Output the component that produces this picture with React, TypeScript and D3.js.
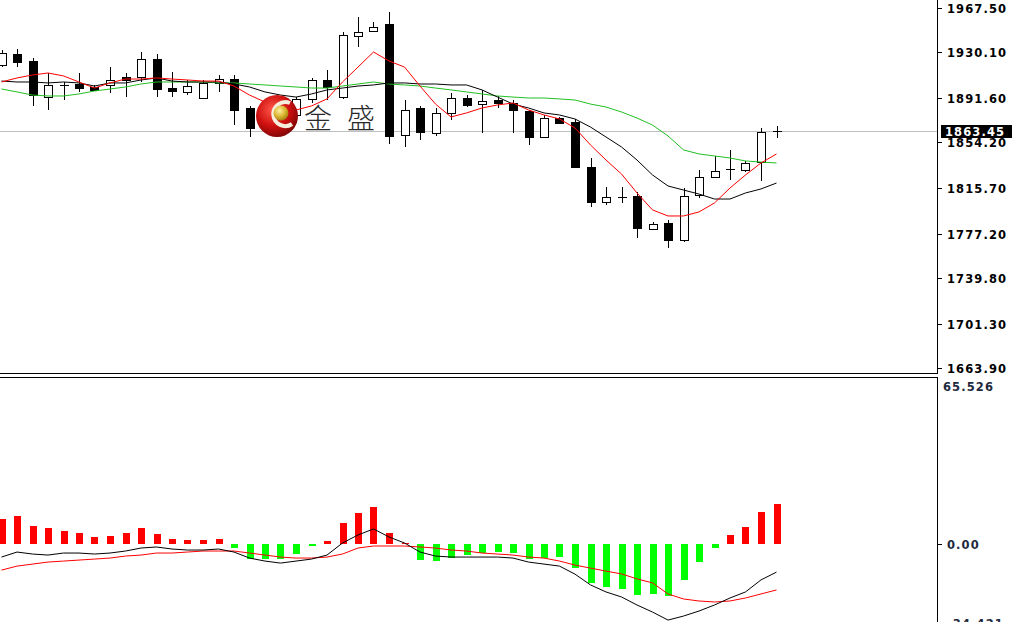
import React from "react";
import * as d3 from "d3";

const W = 1012;
const H = 622;

// ---- price data (per bar) ----
const opens = [1919.4, 1928.7, 1922.8, 1892.4, 1902.6, 1903.4, 1900.9, 1902.6, 1909.3, 1909.3, 1924.5, 1900.0, 1896.7, 1891.6, 1904.3, 1907.6, 1883.2, 1871.4, 1874.7, 1877.3, 1890.8, 1906.8, 1892.4, 1943.9, 1948.1, 1954.0, 1860.4, 1883.2, 1862.1, 1879.0, 1891.6, 1886.5, 1889.9, 1887.4, 1880.6, 1858.7, 1874.7, 1871.4, 1833.4, 1803.9, 1808.1, 1809.0, 1781.2, 1786.2, 1771.9, 1809.8, 1825.0, 1831.7, 1830.9, 1837.6, 1863.8];
const highs = [1932.1, 1932.9, 1925.3, 1912.7, 1905.1, 1912.7, 1902.6, 1917.7, 1912.7, 1930.4, 1928.7, 1913.5, 1906.8, 1906.8, 1911.0, 1911.0, 1884.9, 1877.3, 1881.5, 1892.4, 1908.5, 1915.2, 1947.3, 1959.9, 1955.7, 1964.1, 1889.9, 1884.9, 1883.2, 1895.8, 1894.1, 1898.4, 1893.3, 1889.9, 1881.5, 1877.3, 1875.6, 1873.9, 1841.0, 1816.6, 1816.6, 1812.3, 1787.0, 1788.7, 1815.7, 1830.9, 1842.7, 1847.8, 1838.5, 1866.3, 1868.0];
const lows = [1917.7, 1917.7, 1884.9, 1881.5, 1889.9, 1896.7, 1897.5, 1895.8, 1892.4, 1905.1, 1892.4, 1892.4, 1894.1, 1891.6, 1896.7, 1868.8, 1858.7, 1864.6, 1868.8, 1870.5, 1887.4, 1889.9, 1890.8, 1934.6, 1948.1, 1852.8, 1850.3, 1856.2, 1859.6, 1873.0, 1884.0, 1862.1, 1883.2, 1862.1, 1852.0, 1857.9, 1869.7, 1832.6, 1799.7, 1801.4, 1803.1, 1773.6, 1780.3, 1765.1, 1770.2, 1807.3, 1825.0, 1822.5, 1829.2, 1821.6, 1857.9];
const closes = [1929.6, 1922.0, 1894.1, 1902.6, 1901.9, 1900.0, 1898.4, 1906.8, 1906.8, 1924.5, 1899.2, 1897.5, 1901.7, 1904.3, 1907.6, 1881.5, 1866.3, 1874.7, 1879.8, 1890.8, 1906.8, 1900.9, 1944.7, 1947.3, 1951.5, 1859.6, 1881.5, 1863.0, 1879.0, 1891.6, 1885.7, 1889.1, 1887.4, 1881.5, 1858.7, 1874.7, 1870.5, 1833.4, 1803.9, 1808.1, 1807.7, 1782.0, 1785.4, 1771.9, 1809.0, 1825.0, 1830.0, 1831.2, 1836.8, 1863.0, 1863.45];

// ---- moving averages ----
const maFast = [1905.1, 1908.5, 1911.0, 1912.7, 1910.2, 1905.1, 1900.0, 1904.3, 1907.6, 1907.6, 1908.5, 1907.6, 1906.8, 1905.9, 1905.9, 1901.7, 1894.1, 1888.2, 1884.0, 1881.5, 1884.9, 1890.8, 1905.1, 1917.7, 1930.4, 1922.8, 1917.7, 1901.7, 1886.5, 1875.6, 1879.0, 1883.2, 1885.7, 1887.4, 1881.5, 1877.3, 1873.9, 1866.3, 1852.0, 1839.3, 1827.5, 1811.5, 1797.2, 1792.1, 1792.1, 1795.5, 1803.1, 1815.7, 1826.7, 1836.8, 1844.4];
const maMid = [1905.9, 1905.1, 1905.1, 1904.3, 1905.1, 1904.3, 1901.7, 1904.3, 1904.3, 1906.8, 1908.5, 1905.9, 1905.1, 1905.1, 1905.1, 1903.4, 1900.9, 1896.7, 1894.1, 1892.4, 1895.0, 1898.4, 1900.0, 1901.7, 1902.6, 1904.3, 1904.3, 1903.4, 1903.4, 1902.6, 1902.6, 1898.4, 1892.4, 1886.5, 1883.2, 1879.0, 1877.3, 1873.9, 1867.1, 1858.7, 1850.3, 1839.3, 1826.7, 1817.4, 1814.0, 1810.6, 1806.4, 1806.4, 1811.5, 1814.9, 1819.9];
const maSlow = [1899.2, 1896.7, 1894.1, 1893.3, 1893.3, 1895.0, 1897.5, 1899.2, 1900.9, 1903.4, 1905.1, 1905.1, 1905.1, 1905.1, 1904.3, 1904.3, 1903.4, 1902.6, 1901.7, 1900.9, 1900.0, 1900.0, 1901.7, 1903.4, 1905.1, 1903.4, 1902.6, 1901.7, 1900.0, 1898.4, 1896.7, 1895.0, 1893.3, 1892.4, 1891.6, 1891.6, 1890.8, 1889.9, 1886.5, 1884.0, 1879.8, 1874.7, 1868.8, 1859.6, 1847.8, 1844.4, 1842.7, 1841.0, 1838.5, 1837.6, 1836.8];

// ---- MACD panel ----
const macdHist = [9.8, 11.0, 7.0, 6.2, 5.0, 4.2, 2.6, 3.0, 4.2, 6.2, 3.8, 1.8, 1.4, 1.4, 1.8, -1.8, -6.2, -6.2, -6.2, -4.2, -1.0, 1.0, 8.2, 12.1, 14.5, 4.2, 0.2, -6.6, -7.0, -5.8, -4.6, -3.8, -3.4, -3.8, -6.2, -5.8, -5.4, -9.8, -15.7, -17.3, -18.1, -20.5, -20.1, -20.9, -14.5, -7.4, -1.8, 3.4, 6.6, 12.5, 15.7];
const macdLine = [-5.4, -3.4, -4.2, -4.6, -3.8, -3.8, -4.2, -3.8, -3.0, -1.8, -1.4, -2.2, -2.6, -2.6, -2.2, -3.4, -5.8, -7.0, -7.8, -7.0, -6.2, -4.6, 0.2, 3.4, 5.8, 2.6, 0.2, -3.4, -5.0, -5.4, -5.4, -5.4, -5.4, -5.8, -7.4, -8.2, -9.0, -12.2, -16.5, -19.3, -21.3, -24.5, -27.3, -30.5, -28.9, -26.9, -24.5, -21.7, -19.3, -14.5, -11.4];
const signalLine = [-10.6, -9.0, -8.2, -7.4, -7.0, -6.6, -6.2, -5.8, -5.0, -4.6, -3.8, -3.8, -3.4, -3.0, -3.0, -3.0, -3.8, -4.6, -5.4, -5.8, -5.8, -5.4, -4.2, -1.8, -1.0, -1.0, -1.0, -1.4, -1.8, -2.6, -3.0, -3.8, -4.2, -4.6, -5.4, -5.8, -7.0, -8.6, -9.8, -11.0, -12.1, -14.1, -15.7, -20.1, -22.1, -22.9, -23.3, -22.9, -21.7, -20.1, -18.5];

const priceTicks = [1967.5, 1930.1, 1891.6, 1854.2, 1815.7, 1777.2, 1739.8, 1701.3, 1663.9];
const currentPrice = 1863.45;
const macdMax = 65.526;
const macdMin = -34.421;
const logoText = ["金", "盛"];

const AXIS_X = 937.5;
const LABEL_FONT = "'DejaVu Sans', Verdana, sans-serif";

export default function App() {
  const n = closes.length;
  const x = d3.scaleLinear().domain([0, n - 1]).range([1.5, 776.5]);
  const y = d3.scaleLinear().domain([1663.9, 1967.5]).range([368, 8]);
  const ym = d3.scaleLinear().domain([0, macdMax]).range([543.5, 379]);

  const px = (i: number) => Math.round(x(i)) + 0.5;

  const lineP = (arr: number[]) =>
    d3.line<number>().x((_, i) => x(i)).y((d) => y(d))(arr) || "";
  const lineM = (arr: number[]) =>
    d3.line<number>().x((_, i) => x(i)).y((d) => ym(d))(arr) || "";

  const zeroY = ym(0);

  return (
    <svg width={W} height={H} style={{ position: "absolute", left: 0, top: 0, background: "#fff" }}>
      <defs>
        <radialGradient id="ball" cx="40%" cy="35%" r="70%">
          <stop offset="0%" stopColor="#ff5a4a" />
          <stop offset="55%" stopColor="#d01010" />
          <stop offset="100%" stopColor="#7a0606" />
        </radialGradient>
        <radialGradient id="gold" cx="40%" cy="35%" r="70%">
          <stop offset="0%" stopColor="#fff2a0" />
          <stop offset="60%" stopColor="#d6b02a" />
          <stop offset="100%" stopColor="#9a7a10" />
        </radialGradient>
        <clipPath id="mainClip">
          <rect x={0} y={0} width={AXIS_X} height={373} />
        </clipPath>
        <clipPath id="subClip">
          <rect x={0} y={378} width={AXIS_X} height={H - 378} />
        </clipPath>
      </defs>
      <rect x={0} y={0} width={W} height={H} fill="#fff" />

      {/* ---------- main panel ---------- */}
      <g clipPath="url(#mainClip)">
        <line x1={0} x2={AXIS_X} y1={Math.round(y(currentPrice)) + 0.5} y2={Math.round(y(currentPrice)) + 0.5} stroke="#c0c0c0" strokeWidth={1} />

        {closes.map((c, i) => {
          const o = opens[i];
          const cx = px(i);
          const top = Math.round(y(Math.max(o, c)));
          const bot = Math.round(y(Math.min(o, c)));
          const bull = c >= o;
          const hh = bot - top;
          return (
            <g key={i} shapeRendering="crispEdges">
              <line x1={cx} x2={cx} y1={Math.round(y(highs[i]))} y2={Math.round(y(lows[i]))} stroke="#000" strokeWidth={1} />
              {hh < 1.5 ? (
                <line x1={cx - 4.5} x2={cx + 4.5} y1={top + 0.5} y2={top + 0.5} stroke="#000" strokeWidth={1.5} />
              ) : (
                <rect x={cx - 4} y={top + 0.5} width={8} height={hh} fill={bull ? "#fff" : "#000"} stroke="#000" strokeWidth={1} />
              )}
            </g>
          );
        })}

        <path d={lineP(maSlow)} fill="none" stroke="#22c022" strokeWidth={1} />
        <path d={lineP(maMid)} fill="none" stroke="#000" strokeWidth={1} />
        <path d={lineP(maFast)} fill="none" stroke="#ff0000" strokeWidth={1} />

        {/* watermark logo */}
        <g>
          <circle cx={277} cy={116} r={21} fill="url(#ball)" />
          <path d="M 290 103 A 12 12 0 1 0 292 124" fill="none" stroke="#f6eedc" strokeWidth={4} />
          <circle cx={281} cy={113} r={7.5} fill="url(#gold)" />
          <text x={318} y={129} fontSize={28} fontFamily="'Noto Sans CJK SC', sans-serif" fontWeight={300} fill="#2a2a2a" textAnchor="middle">{logoText[0]}</text>
          <text x={361} y={129} fontSize={28} fontFamily="'Noto Sans CJK SC', sans-serif" fontWeight={300} fill="#2a2a2a" textAnchor="middle">{logoText[1]}</text>
        </g>
      </g>

      {/* ---------- MACD panel ---------- */}
      <g clipPath="url(#subClip)">
        {macdHist.map((v, i) => {
          const cx = Math.round(x(i));
          const y0 = Math.round(zeroY);
          const y1 = Math.round(ym(v));
          const t = Math.min(y0, y1);
          const h = Math.max(Math.abs(y1 - y0), v === 0 ? 0 : 1);
          return (
            <rect key={i} x={cx - 3} y={t} width={7} height={h} fill={v >= 0 ? "#ff0000" : "#00ff00"} shapeRendering="crispEdges" />
          );
        })}
        <path d={lineM(signalLine)} fill="none" stroke="#ff0000" strokeWidth={1} />
        <path d={lineM(macdLine)} fill="none" stroke="#000" strokeWidth={1} />
      </g>

      {/* ---------- frames ---------- */}
      <g shapeRendering="crispEdges" stroke="#000" strokeWidth={1}>
        <line x1={AXIS_X} x2={AXIS_X} y1={0} y2={374} />
        <line x1={0} x2={AXIS_X} y1={373.5} y2={373.5} />
        <line x1={0} x2={AXIS_X} y1={377.5} y2={377.5} />
        <line x1={AXIS_X} x2={AXIS_X} y1={377} y2={H} />
      </g>

      {/* price axis */}
      {priceTicks.map((p) => {
        const ty = Math.round(y(p)) + 0.5;
        return (
          <g key={p}>
            <line x1={AXIS_X} x2={AXIS_X + 4} y1={ty} y2={ty} stroke="#000" shapeRendering="crispEdges" />
            <text x={947} y={ty + 4.5} fontSize={11.5} fontWeight="bold" letterSpacing={1.1} fontFamily={LABEL_FONT} fill="#000">
              {p.toFixed(2)}
            </text>
          </g>
        );
      })}
      <g>
        <rect x={941} y={Math.round(y(currentPrice)) - 6} width={71} height={13} fill="#000" />
        <text x={945} y={Math.round(y(currentPrice)) + 4.5} fontSize={11.5} fontWeight="bold" letterSpacing={1.1} fontFamily={LABEL_FONT} fill="#fff">
          {currentPrice.toFixed(2)}
        </text>
      </g>

      {/* MACD axis */}
      <text x={943} y={391} fontSize={11.5} fontWeight="bold" letterSpacing={1.1} fontFamily={LABEL_FONT} fill="#1e2a40">
        {macdMax.toFixed(3)}
      </text>
      <line x1={AXIS_X} x2={AXIS_X + 4} y1={Math.round(zeroY) + 0.5} y2={Math.round(zeroY) + 0.5} stroke="#000" shapeRendering="crispEdges" />
      <text x={947} y={Math.round(zeroY) + 5} fontSize={11.5} fontWeight="bold" letterSpacing={1.1} fontFamily={LABEL_FONT} fill="#1e2a40">
        {(0).toFixed(2)}
      </text>
      <line x1={AXIS_X} x2={AXIS_X + 4} y1={Math.round(ym(macdMin)) + 0.5} y2={Math.round(ym(macdMin)) + 0.5} stroke="#000" shapeRendering="crispEdges" />
      <text x={947} y={628} fontSize={11.5} fontWeight="bold" letterSpacing={1.1} fontFamily={LABEL_FONT} fill="#1e2a40">
        {macdMin.toFixed(3)}
      </text>
    </svg>
  );
}
